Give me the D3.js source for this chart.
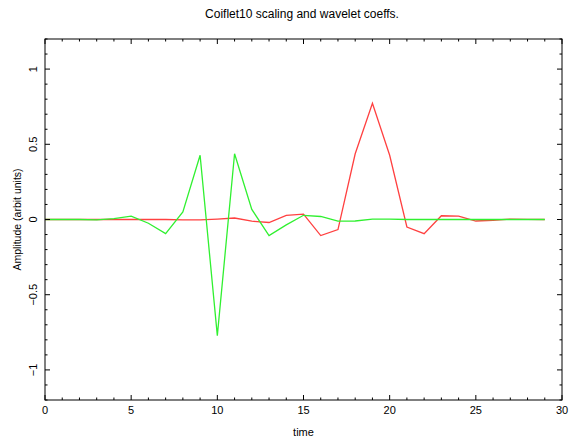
<!DOCTYPE html>
<html>
<head>
    <script src="https://cdn.jsdelivr.net/npm/d3@7/dist/d3.min.js"></script>
    <style>
        body { margin: 0; background: #fff; }
        text { font-family: "Liberation Sans", Arial, sans-serif; fill: #000; }
    </style>
</head>
<body>
    <div id="viz"></div>
    <script>
    //Data
    var time = d3.range(0, 30);
    var scaling = [0, 0, 0, 0, 0, 0, 0, 0, -0.002, -0.002, 0.003, 0.01, -0.011, -0.02, 0.028, 0.036,
                   -0.107, -0.067, 0.437, 0.772, 0.427, -0.05, -0.094, 0.025, 0.022, -0.01, -0.005, 0.003, 0.001, 0];
    var wavelet = [0, 0, 0, -0.003, 0.006, 0.022, -0.025, -0.094, 0.05, 0.427, -0.772, 0.437, 0.067, -0.107, -0.036, 0.028,
                   0.02, -0.011, -0.01, 0.003, 0.002, 0, 0, 0, 0, 0, 0, 0, 0, 0];
    var xTicks = [0, 5, 10, 15, 20, 25, 30];
    var yTicks = [-1, -0.5, 0, 0.5, 1];

    var width = 569, height = 438;
    var plotL = 45, plotR = 562, plotT = 39, plotB = 400;

    var svg = d3.select("#viz").append("svg")
        .attr("width", width)
        .attr("height", height);

    var x = d3.scaleLinear().domain([0, 30]).range([plotL, plotR]);
    var y = d3.scaleLinear().domain([-1.2, 1.2]).range([plotB, plotT]);

    //Title
    svg.append("text")
        .attr("x", 302)
        .attr("y", 18)
        .attr("text-anchor", "middle")
        .style("font-size", "12px")
        .text("Coiflet10 scaling and wavelet coeffs.");

    //Lines
    var line = function(vals) {
        return d3.line()
            .x(function(d, i) { return x(time[i]); })
            .y(function(d) { return y(d); })(vals);
    };
    svg.append("path").attr("d", line(scaling))
        .attr("fill", "none").attr("stroke", "#ff4040").attr("stroke-width", 1.3);
    svg.append("path").attr("d", line(wavelet))
        .attr("fill", "none").attr("stroke", "#30f030").attr("stroke-width", 1.3);

    //Frame
    svg.append("rect")
        .attr("x", plotL).attr("y", plotT)
        .attr("width", plotR - plotL).attr("height", plotB - plotT)
        .attr("fill", "none").attr("stroke", "#000").attr("stroke-width", 1);

    //Ticks on all four sides, pointing in
    var tickG = svg.append("g").attr("stroke", "#000").attr("stroke-width", 1);
    d3.range(0, 31).forEach(function(t) {
        var len = t % 5 === 0 ? 5 : 2.5;
        tickG.append("line").attr("x1", x(t)).attr("x2", x(t)).attr("y1", plotB).attr("y2", plotB - len);
        tickG.append("line").attr("x1", x(t)).attr("x2", x(t)).attr("y1", plotT).attr("y2", plotT + len);
    });
    d3.range(-12, 13).forEach(function(k) {
        var v = k / 10;
        var len = k % 5 === 0 ? 5 : 2.5;
        tickG.append("line").attr("y1", y(v)).attr("y2", y(v)).attr("x1", plotL).attr("x2", plotL + len);
        tickG.append("line").attr("y1", y(v)).attr("y2", y(v)).attr("x1", plotR).attr("x2", plotR - len);
    });

    //Tick labels
    svg.selectAll(".xl").data(xTicks).enter().append("text")
        .attr("x", function(d) { return x(d); })
        .attr("y", 414)
        .attr("text-anchor", "middle")
        .style("font-size", "11px")
        .text(function(d) { return d; });

    svg.selectAll(".yl").data(yTicks).enter().append("text")
        .attr("transform", function(d) { return "translate(37," + y(d) + ") rotate(-90)"; })
        .attr("text-anchor", "middle")
        .style("font-size", "11px")
        .text(function(d) { return d < 0 ? "\u2212" + Math.abs(d) : d; });

    //Axis titles
    svg.append("text")
        .attr("x", x(15)).attr("y", 436)
        .attr("text-anchor", "middle")
        .style("font-size", "11px")
        .text("time");

    svg.append("text")
        .attr("transform", "translate(21," + y(0) + ") rotate(-90)")
        .attr("text-anchor", "middle")
        .style("font-size", "10.5px")
        .text("Amplitude (arbit units)");
    </script>
</body>
</html>
